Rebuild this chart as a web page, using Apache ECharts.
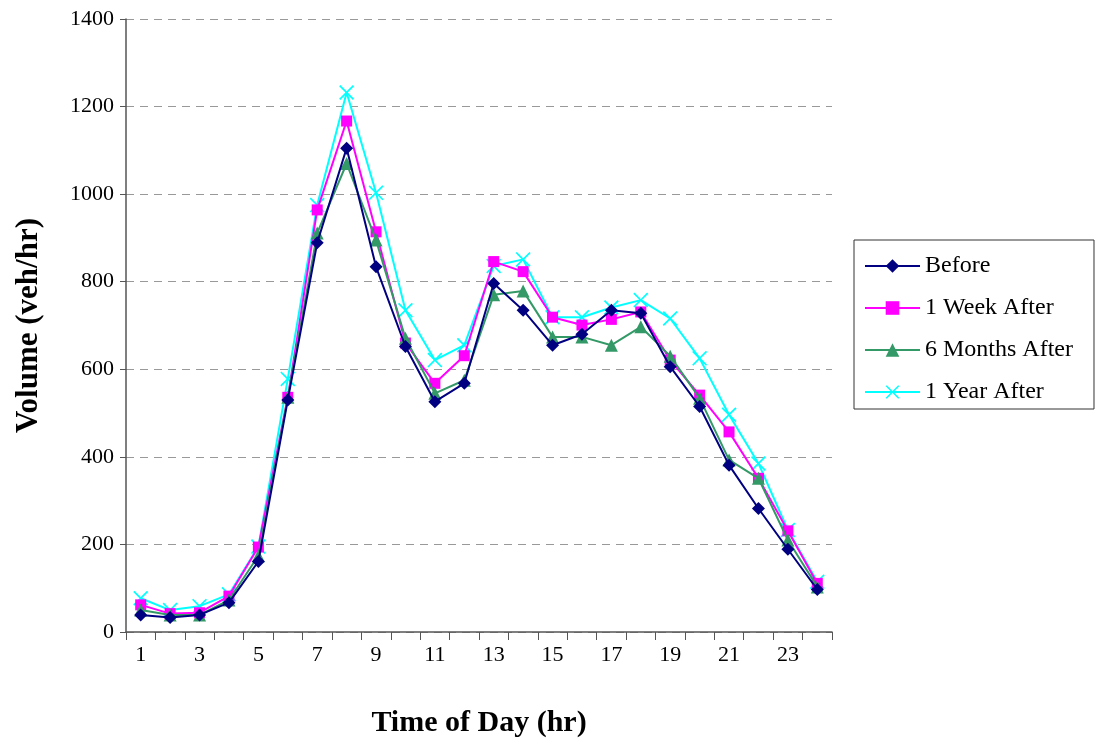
<!DOCTYPE html>
<html><head><meta charset="utf-8">
<script src="https://cdn.jsdelivr.net/npm/echarts@6/dist/echarts.min.js"></script>
<style>html,body{margin:0;padding:0;background:#fff}#c{width:1096px;height:744px}</style>
</head><body><div id="c"></div>
<script>
const hours = ['1','2','3','4','5','6','7','8','9','10','11','12','13','14','15','16','17','18','19','20','21','22','23','24'];
const seriesNames = ['Before','1 Week After','6 Months After','1 Year After'];
const before = [39,33,39,67,161,530,889,1105,834,652,526,568,796,735,655,680,735,728,606,515,381,282,189,97];
const weekAfter = [62,42,44,82,194,536,964,1167,914,660,568,631,846,823,719,701,714,731,621,541,457,351,231,111];
const monthsAfter = [50,39,39,73,174,536,911,1070,895,671,545,575,770,779,674,674,655,697,630,534,393,351,210,103];
const yearAfter = [77,50,59,86,195,578,975,1232,1003,735,621,655,836,851,719,719,741,758,716,625,496,385,233,115];
const yTicks = {min:0, max:1400, interval:200};

const xPath = 'path://M0,1.6 L1.6,0 L10,8.4 L18.4,0 L20,1.6 L11.6,10 L20,18.4 L18.4,20 L10,11.6 L1.6,20 L0,18.4 L8.4,10 Z';
const colors = ['#000080','#FF00FF','#339966','#00FFFF'];
const symbols = ['diamond','rect','triangle', xPath];
const sizes = [13,11,13,15];
const data = [before, weekAfter, monthsAfter, yearAfter];
const font = '"Liberation Serif", "Times New Roman", serif';

const chart = echarts.init(document.getElementById('c'), null, {renderer:'canvas'});
chart.setOption({
  animation:false,
  textStyle:{fontFamily:font},
  grid:{left:126, right:264, top:19, bottom:112, containLabel:false},
  legend:{
    orient:'vertical', left:854, top:240,
    data:seriesNames,
    itemWidth:55, itemHeight:17, itemGap:18,
    padding:[14,21,5,10],
    borderColor:'#333', borderWidth:1,
    itemStyle:{borderWidth:0},
    lineStyle:{width:2},
    textStyle:{fontFamily:font, fontSize:24, color:'#000'}
  },
  xAxis:{
    type:'category', data:hours, boundaryGap:true,
    name:'Time of Day (hr)', nameLocation:'middle', nameGap:76,
    nameTextStyle:{fontFamily:font, fontSize:30, fontWeight:'bold', color:'#000'},
    axisLine:{lineStyle:{color:'#555', width:1.5}},
    axisTick:{show:true, interval:0, length:8, lineStyle:{color:'#555'}},
    axisLabel:{interval:1, fontFamily:font, fontSize:22, color:'#000', margin:12},
    splitLine:{show:false}
  },
  yAxis:{
    type:'value', min:yTicks.min, max:yTicks.max, interval:yTicks.interval,
    name:'Volume (veh/hr)', nameLocation:'middle', nameGap:82, nameRotate:90,
    nameTextStyle:{fontFamily:font, fontSize:31, fontWeight:'bold', color:'#000'},
    axisLine:{show:true, lineStyle:{color:'#555', width:1.5}},
    axisTick:{show:true, length:6, lineStyle:{color:'#555'}},
    axisLabel:{fontFamily:font, fontSize:22, color:'#000', margin:12, formatter:v=>String(v)},
    splitLine:{show:true, lineStyle:{color:'#999', type:[8,6], width:1}}
  },
  series: seriesNames.map((n,i)=>({
    name:n, type:'line', data:data[i],
    symbol:symbols[i], symbolSize:sizes[i], showAllSymbol:true,
    lineStyle:{color:colors[i], width:2},
    itemStyle:{color:colors[i]},
    z: [5,3,4,2][i]
  }))
});
</script></body></html>
